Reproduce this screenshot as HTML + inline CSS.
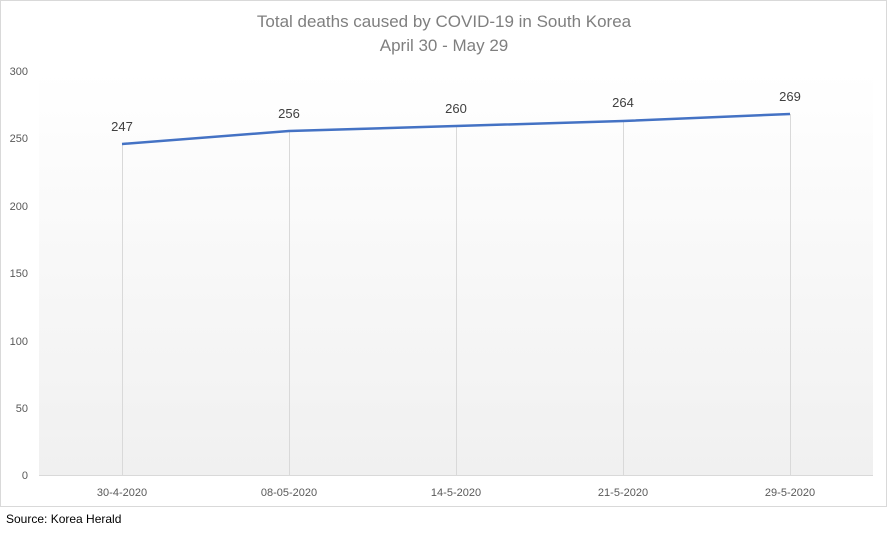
<!DOCTYPE html><html><head><style>
body{margin:0;background:#fff;width:888px;height:531px;overflow:hidden}
</style></head><body>
<svg width="888" height="531" xmlns="http://www.w3.org/2000/svg" font-family="Liberation Sans, Arial, sans-serif">
<defs><linearGradient id="g" x1="0" y1="0" x2="0" y2="1"><stop offset="0" stop-color="#fff"/><stop offset="1" stop-color="#f0f0f0"/></linearGradient></defs>
<rect x="0.5" y="0.5" width="886" height="506" fill="#fff" stroke="#d9d9d9"/>
<rect x="39" y="71" width="834" height="405" fill="url(#g)"/>
<text x="444" y="27" text-anchor="middle" font-size="17" fill="#7f7f7f">Total deaths caused by COVID-19 in South Korea</text>
<text x="444" y="51" text-anchor="middle" font-size="17" fill="#7f7f7f">April 30 - May 29</text>
<g font-size="11" fill="#595959" text-anchor="end">
<text x="28" y="75">300</text><text x="28" y="142">250</text><text x="28" y="210">200</text><text x="28" y="277">150</text><text x="28" y="345">100</text><text x="28" y="412">50</text><text x="28" y="479">0</text>
</g>
<g stroke="#d9d9d9" stroke-width="1">
<line x1="122.5" y1="144" x2="122.5" y2="475"/><line x1="289.5" y1="131" x2="289.5" y2="475"/><line x1="456.5" y1="126" x2="456.5" y2="475"/><line x1="623.5" y1="121" x2="623.5" y2="475"/><line x1="790.5" y1="114" x2="790.5" y2="475"/>
<line x1="39" y1="475.5" x2="873" y2="475.5"/>
</g>
<polyline points="122,144 289,131 456,126 623,121 790,114" fill="none" stroke="#4472c4" stroke-width="2.5"/>
<g font-size="13" fill="#404040" text-anchor="middle">
<text x="122" y="131">247</text><text x="289" y="118">256</text><text x="456" y="113">260</text><text x="623" y="107">264</text><text x="790" y="101">269</text>
</g>
<g font-size="11" fill="#595959" text-anchor="middle">
<text x="122" y="496">30-4-2020</text><text x="289" y="496">08-05-2020</text><text x="456" y="496">14-5-2020</text><text x="623" y="496">21-5-2020</text><text x="790" y="496">29-5-2020</text>
</g>
<text x="6" y="523" font-size="12" fill="#000">Source: Korea Herald</text>
</svg>
</body></html>
